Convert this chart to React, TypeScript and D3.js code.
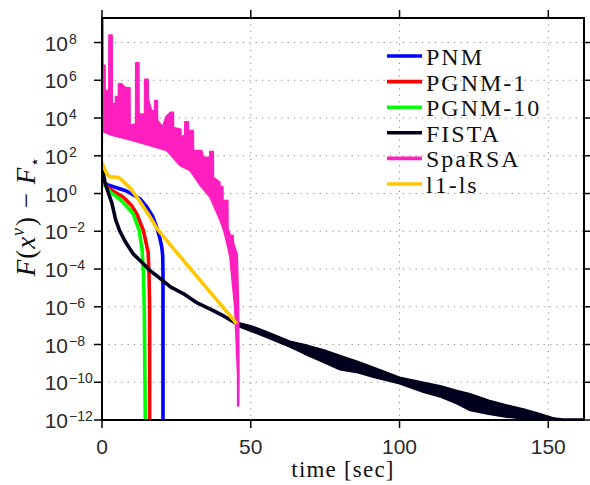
import React from 'react'
import * as d3 from 'd3'

// all y values are log10(F(x) - F*), x values are time in seconds
const xTicks = [0, 50, 100, 150]
const yTickExps = [-12, -10, -8, -6, -4, -2, 0, 2, 4, 6, 8]

const seriesNames = ['PNM', 'PGNM-1', 'PGNM-10', 'FISTA', 'SpaRSA', 'l1-ls']
const seriesColors = ['#0000ff', '#ff0000', '#00ff00', '#00001e', '#ff1fbf', '#ffc800']

const pnm: [number, number][] = [
  [0.1, 1.1], [0.5, 0.6], [2, 0.45], [4.4, 0.33], [8, 0.15], [12.8, -0.28], [15, -0.7],
  [17, -1.2], [18.4, -1.8], [19.5, -2.4], [20.1, -2.85], [20.4, -3.3], [20.5, -4.2], [20.5, -13]
]
const pgnm1: [number, number][] = [
  [0.1, 1.1], [0.5, 0.55], [3, 0.2], [7.2, -0.2], [10, -0.65], [11.7, -1.08], [13.9, -1.96],
  [14.8, -2.6], [15.5, -3.1], [15.8, -4.2], [16.0, -6], [16.0, -13]
]
const pgnm10: [number, number][] = [
  [0.1, 1.1], [0.5, 0.5], [3, 0.05], [6, -0.3], [8.5, -0.7], [10.5, -1.08], [12.5, -1.96],
  [13.5, -3.0], [13.9, -4.1], [14.2, -6], [14.6, -13]
]
const fista: [number, number][] = [
  [0.1, 1.35], [1.0, 0.6], [2.2, 0.0], [3.3, -0.5], [4.6, -1.4], [6.0, -2.0], [8.0, -2.6],
  [10.5, -3.2], [13.9, -3.72], [16.1, -4.08], [19.5, -4.5], [23, -4.95], [27.3, -5.3],
  [32, -5.8], [37.4, -6.2], [41, -6.5], [45.3, -6.9], [50, -7.15], [55.4, -7.45],
  [63.2, -7.98], [74.4, -8.6], [80, -8.95], [91.2, -9.45], [100, -9.9], [108, -10.25],
  [119.3, -10.8], [123.7, -11.05], [132, -11.3], [141.7, -11.6], [150, -11.92], [155, -12], [162, -12]
]
// oscillation envelope of FISTA (t, upper, lower)
const fistaBand: [number, number, number][] = [
  [45, -6.8, -7.0], [50, -7.0, -7.3], [55, -7.3, -7.6], [63.2, -7.82, -8.14], [68, -8.0, -8.5],
  [74.4, -8.28, -8.94], [80, -8.58, -9.34], [86, -8.9, -9.5], [91.2, -9.2, -9.73],
  [100, -9.73, -10.08], [108, -10.0, -10.53], [114, -10.2, -10.8], [119.3, -10.44, -11.14],
  [123.7, -10.61, -11.5], [130, -10.95, -11.7], [136, -11.2, -11.85], [141.7, -11.42, -11.95],
  [147, -11.65, -12], [152, -11.9, -12]
]
// SpaRSA is very oscillatory: upper outline (with spikes) and lower outline
const sparsaUpper: [number, number][] = [
  [0, 9.4], [0.3, 9.4], [0.35, 6.8], [1.0, 6.8], [1.05, 5.46], [2.3, 5.46], [2.35, 8.4],
  [3.4, 8.4], [3.45, 4.75], [4.5, 4.75], [4.55, 5.14], [5.5, 5.14], [5.55, 5.81], [6.6, 5.81],
  [7.5, 5.67], [8.3, 5.6], [9.4, 5.6], [9.45, 3.6], [11.3, 3.7], [11.35, 6.93], [12.4, 6.93],
  [12.45, 4.22], [14.3, 4.2], [14.35, 6.05], [15.5, 6.05], [15.55, 5.02], [16.6, 4.4],
  [17.7, 4.4], [17.75, 4.93], [18.6, 4.93], [18.65, 3.87], [20.4, 3.55], [21.5, 4.08],
  [23.0, 4.3], [24.0, 4.3], [24.05, 3.5], [26.5, 3.4], [26.55, 2.98], [27.8, 3.1], [27.85, 3.8],
  [29.0, 3.8], [29.05, 3.34], [30.7, 3.34], [30.75, 2.28], [33.5, 2.28], [34.1, 1.92],
  [36.2, 1.92], [36.25, 2.22], [37.4, 2.22], [37.45, 0.86], [39.6, 0.6], [39.65, 0.37],
  [40.6, 0.37], [40.65, -0.37], [42.3, -0.37], [42.35, -1.87], [43.2, -2.23], [44.1, -2.23],
  [44.15, -2.6], [45.4, -3.2], [45.5, -3.5], [45.9, -6.0], [46.0, -9.7], [45.9, -11.25]
]
const sparsaLower: [number, number][] = [
  [0, 1.0], [0.15, 3.3], [3, 3.1], [10.5, 2.8], [16, 2.55], [21.7, 2.28], [26.2, 1.48],
  [29.6, 1.22], [33, 0.42], [36.3, -0.2], [39.7, -1.43], [41.0, -2.0], [42.5, -3.0],
  [43.0, -3.37], [44.6, -6.0], [45.6, -9.7], [45.6, -11.25]
]
const l1ls: [number, number][] = [
  [0.0, 1.65], [0.6, 1.4], [1.6, 1.04], [2.7, 0.88], [5.5, 0.86], [6.6, 0.72], [9.4, 0.3],
  [12, -0.25], [16, -1.2], [18.4, -1.85], [25, -3.1], [33, -4.6], [40, -5.9], [45.3, -6.9]
]

const W = 590
const H = 485
const plot = {left: 102, top: 18, right: 584, bottom: 420}

export default function App () {
  const x = d3.scaleLinear().domain([0, 162]).range([plot.left, plot.right])
  const y = d3.scaleLog().domain([1e-12, Math.pow(10, 9.3)]).range([plot.bottom, plot.top])
  const ye = (e: number) => y(Math.pow(10, e))

  const line = d3.line<[number, number]>().x(d => x(d[0])).y(d => ye(d[1]))
  const band = d3.area<[number, number, number]>()
    .x(d => x(d[0])).y0(d => ye(d[2])).y1(d => ye(d[1]))

  const sparsaPath = line(sparsaUpper.concat(sparsaLower.slice().reverse())) + 'Z'
  const lines = [pnm, pgnm1, pgnm10, fista]

  const serif = '"Liberation Serif", "Times New Roman", serif'
  const sans = '"Liberation Sans", Arial, sans-serif'
  const tickLen = 8

  return (
    <svg width={W} height={H} style={{position: 'absolute', left: 0, top: 0, background: '#fff'}}>
      <defs>
        <clipPath id='plotclip'>
          <rect x={plot.left} y={plot.top} width={plot.right - plot.left} height={plot.bottom - plot.top} />
        </clipPath>
      </defs>

      {/* grid */}
      <g stroke='#8a8a8a' strokeWidth={1} strokeDasharray='1.2,5.2'>
        {xTicks.filter(t => t > 0).map(t => (
          <line key={'gx' + t} x1={x(t)} x2={x(t)} y1={plot.top} y2={plot.bottom} />
        ))}
        {yTickExps.filter(e => e > -12).map(e => (
          <line key={'gy' + e} x1={plot.left} x2={plot.right} y1={ye(e)} y2={ye(e)} />
        ))}
      </g>

      <g clipPath='url(#plotclip)' fill='none' strokeLinejoin='round'>
        {lines.map((d, i) => (
          <path key={seriesNames[i]} d={line(d) || ''} stroke={seriesColors[i]} strokeWidth={3.6} />
        ))}
        <path d={band(fistaBand) || ''} fill={seriesColors[3]} stroke={seriesColors[3]} strokeWidth={1.5} />
        <path d={sparsaPath} fill={seriesColors[4]} stroke={seriesColors[4]} strokeWidth={1.6} />
        <path d={line(l1ls) || ''} stroke={seriesColors[5]} strokeWidth={3.6} />
      </g>

      {/* frame and ticks */}
      <rect x={plot.left} y={plot.top} width={plot.right - plot.left} height={plot.bottom - plot.top}
        fill='none' stroke='#000' strokeWidth={2} />
      <g stroke='#000' strokeWidth={1.5}>
        {xTicks.map(t => (
          <g key={'tx' + t}>
            <line x1={x(t)} x2={x(t)} y1={plot.bottom} y2={plot.bottom + tickLen} />
            <line x1={x(t)} x2={x(t)} y1={plot.top} y2={plot.top - tickLen} />
          </g>
        ))}
        {yTickExps.map(e => (
          <g key={'ty' + e}>
            <line x1={plot.left - tickLen} x2={plot.left} y1={ye(e)} y2={ye(e)} />
            <line x1={plot.right} x2={plot.right + tickLen} y1={ye(e)} y2={ye(e)} />
          </g>
        ))}
      </g>

      {/* tick labels */}
      <g fontFamily={sans} fill='#2a2a2a'>
        {xTicks.map(t => (
          <text key={'lx' + t} x={x(t)} y={plot.bottom + 34} fontSize={21} textAnchor='middle'>{t}</text>
        ))}
        {yTickExps.map(e => (
          <g key={'ly' + e}>
            <text x={plot.left - 34} y={ye(e) + 8} fontSize={21} textAnchor='end'>10</text>
            <text x={plot.left - 33} y={ye(e) + 1} fontSize={14} textAnchor='start'>
              {e < 0 ? '\u2212' + Math.abs(e) : String(e)}
            </text>
          </g>
        ))}
      </g>

      {/* axis labels */}
      <text x={(plot.left + plot.right) / 2} y={477} fontFamily={serif} fontSize={23}
        letterSpacing={1.2} textAnchor='middle' fill='#111'>time [sec]</text>
      <text transform={`translate(35,${(plot.top + plot.bottom) / 2 - 3}) rotate(-90)`}
        fontFamily={serif} fontSize={27} letterSpacing={1} textAnchor='middle' fill='#111'>
        <tspan fontStyle='italic'>F</tspan>
        <tspan>(</tspan>
        <tspan fontStyle='italic'>x</tspan>
        <tspan fontStyle='italic' fontSize={18} dy={-11}>{'\u03bd'}</tspan>
        <tspan dy={11} dx={1}>)</tspan>
        <tspan>{' \u2212 '}</tspan>
        <tspan fontStyle='italic'>F</tspan>
        <tspan fontSize={16} dy={5}>{'\u22c6'}</tspan>
      </text>

      {/* legend */}
      <g>
        {seriesNames.map((n, i) => {
          const ly = 56 + i * 25.6
          return (
            <g key={'lg' + n}>
              <line x1={387} x2={422} y1={ly} y2={ly} stroke={seriesColors[i]} strokeWidth={3.6} />
              <text x={426} y={ly + 9} fontFamily={serif} fontSize={24} letterSpacing={2} fill='#111'>{n}</text>
            </g>
          )
        })}
      </g>
    </svg>
  )
}
